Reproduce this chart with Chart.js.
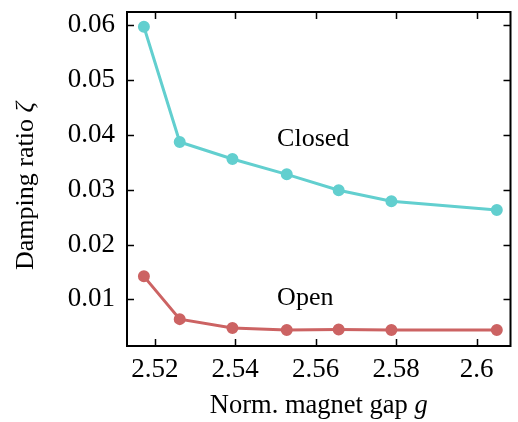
<!DOCTYPE html>
<html>
<head>
<meta charset="utf-8">
<script src="https://cdn.jsdelivr.net/npm/chart.js@4.4.0/dist/chart.umd.min.js"></script>
<style>
  html, body { margin: 0; padding: 0; background: #fff; }
  #wrap { width: 518px; height: 422px; }
</style>
</head>
<body>
<div id="wrap"><canvas id="dampChart" width="518" height="422"></canvas></div>
<script>
// magnet gap samples and damping ratios for both states
const gap = [2.5173, 2.5262, 2.5393, 2.5528, 2.5657, 2.5788, 2.605];
const closed = [0.0597, 0.0387, 0.0356, 0.0328, 0.0299, 0.0279, 0.0263];
const open = [0.0142, 0.0064, 0.0048, 0.0044, 0.0045, 0.0044, 0.0044];

const xTicks = [2.52, 2.54, 2.56, 2.58, 2.6];
const yTicks = [0.01, 0.02, 0.03, 0.04, 0.05, 0.06];

const cyan = "#62cfcf";
const red = "#cc6363";
const serif = "'Liberation Serif', 'DejaVu Serif', serif";

// text labels placed next to each curve (data coordinates)
const curveLabels = [
  { text: "Closed", x: 2.5504, y: 0.0380 },
  { text: "Open", x: 2.5504, y: 0.0089 }
];

function toPoints(ys) {
  return gap.map((g, i) => ({ x: g, y: ys[i] }));
}

// frame with inward ticks on all four sides, plus titles and labels
const framePlugin = {
  id: "frame",
  afterDraw(chart) {
    const ctx = chart.ctx;
    const a = chart.chartArea;
    const xs = chart.scales.x;
    const ys = chart.scales.y;
    const len = 7;
    ctx.save();
    ctx.strokeStyle = "#000";
    ctx.lineWidth = 1.5;
    ctx.beginPath();
    xTicks.forEach(v => {
      const px = Math.round(xs.getPixelForValue(v)) + 0.5;
      ctx.moveTo(px, a.bottom); ctx.lineTo(px, a.bottom - len);
      ctx.moveTo(px, a.top); ctx.lineTo(px, a.top + len);
    });
    yTicks.forEach(v => {
      const py = Math.round(ys.getPixelForValue(v)) + 0.5;
      ctx.moveTo(a.left, py); ctx.lineTo(a.left + len, py);
      ctx.moveTo(a.right, py); ctx.lineTo(a.right - len, py);
    });
    ctx.stroke();
    ctx.lineWidth = 2;
    ctx.strokeRect(a.left, a.top, a.right - a.left, a.bottom - a.top);

    ctx.fillStyle = "#000";
    ctx.textBaseline = "alphabetic";
    ctx.textAlign = "left";
    ctx.font = "26px " + serif;
    curveLabels.forEach(l => {
      ctx.fillText(l.text, xs.getPixelForValue(l.x), ys.getPixelForValue(l.y));
    });

    // x title with italic symbol
    const size = 26.5;
    const xMain = "Norm. magnet gap ";
    ctx.font = size + "px " + serif;
    const w1 = ctx.measureText(xMain).width;
    ctx.font = "italic " + size + "px " + serif;
    const w2 = ctx.measureText("g").width;
    const sx = (a.left + a.right) / 2 - (w1 + w2) / 2;
    ctx.font = size + "px " + serif;
    ctx.fillText(xMain, sx, 413);
    ctx.font = "italic " + size + "px " + serif;
    ctx.fillText("g", sx + w1, 413);

    // y title, rotated
    const yMain = "Damping ratio ";
    ctx.font = "26px " + serif;
    const h1 = ctx.measureText(yMain).width;
    ctx.font = "italic 26px " + serif;
    const h2 = ctx.measureText("\u03b6").width;
    ctx.translate(33, (a.top + a.bottom) / 2 + 7);
    ctx.rotate(-Math.PI / 2);
    const sy = -(h1 + h2) / 2;
    ctx.font = "26px " + serif;
    ctx.fillText(yMain, sy, 0);
    ctx.font = "italic 26px " + serif;
    ctx.fillText("\u03b6", sy + h1, 0);
    ctx.restore();
  }
};

new Chart("dampChart", {
  type: "scatter",
  data: {
    datasets: [{
      data: toPoints(closed),
      showLine: true,
      borderColor: cyan,
      backgroundColor: cyan,
      borderWidth: 3,
      pointRadius: 4.5,
      pointHoverRadius: 4.5
    }, {
      data: toPoints(open),
      showLine: true,
      borderColor: red,
      backgroundColor: red,
      borderWidth: 3,
      pointRadius: 4.5,
      pointHoverRadius: 4.5
    }]
  },
  options: {
    responsive: false,
    animation: false,
    layout: { padding: { top: 12, right: 5, left: 0, bottom: 0 } },
    plugins: {
      legend: { display: false },
      tooltip: { enabled: false }
    },
    scales: {
      x: {
        type: "linear",
        min: 2.5131,
        max: 2.6084,
        grid: { display: false, drawTicks: false },
        border: { display: false },
        afterBuildTicks: s => { s.ticks = xTicks.map(v => ({ value: v })); },
        afterFit: s => { s.height = 76; s.paddingLeft = 0; s.paddingRight = 0; },
        ticks: {
          color: "#000",
          padding: 8,
          font: { family: serif, size: 27 },
          callback: v => String(v)
        }
      },
      y: {
        type: "linear",
        min: 0.0015,
        max: 0.0624,
        grid: { display: false, drawTicks: false },
        border: { display: false },
        afterBuildTicks: s => { s.ticks = yTicks.map(v => ({ value: v })); },
        afterFit: s => { s.width = 127; s.paddingTop = 0; s.paddingBottom = 0; },
        ticks: {
          color: "#000",
          padding: 12,
          font: { family: serif, size: 27 },
          callback: v => String(v)
        }
      }
    }
  },
  plugins: [framePlugin]
});
</script>
</body>
</html>
